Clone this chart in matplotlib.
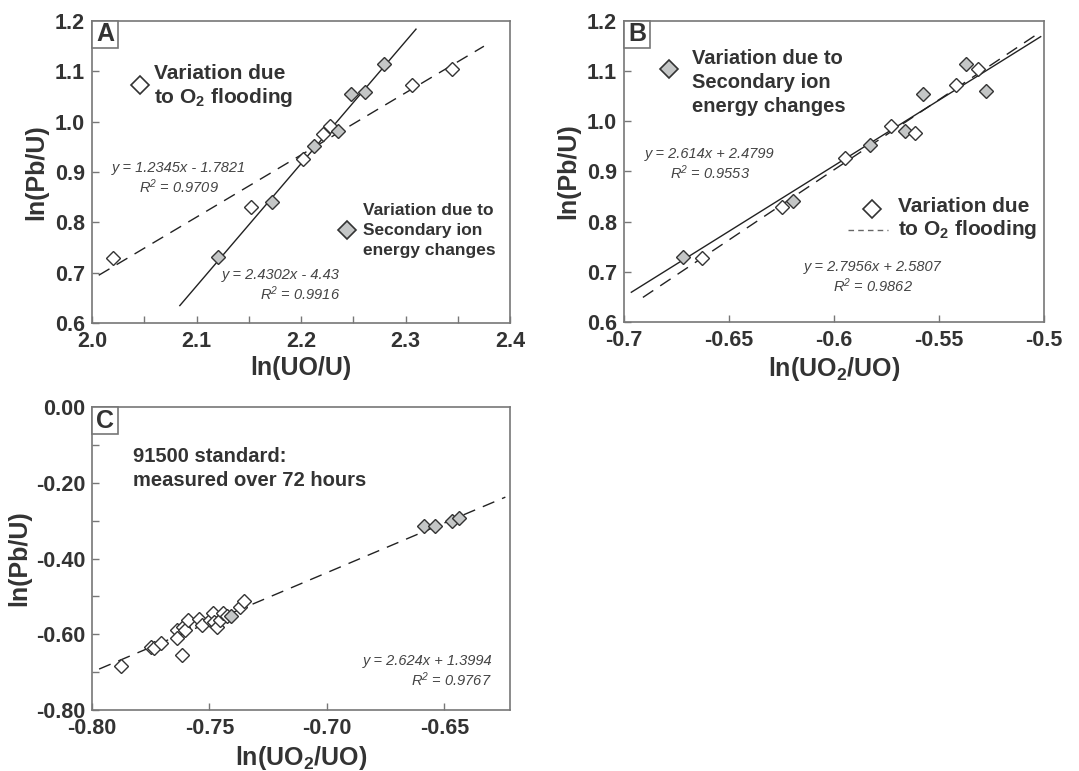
import matplotlib
matplotlib.use("Agg")
import matplotlib.pyplot as plt
from matplotlib.ticker import MultipleLocator, FormatStrFormatter
from matplotlib.patches import Rectangle
import numpy as np

plt.rcParams['font.family'] = ['Liberation Sans', 'DejaVu Sans']
plt.rcParams['mathtext.default'] = 'regular'

TXT = '#333333'
SPINE = '#777777'
GRAY = '#c4c6c6'

# ---------------- Panel A data ----------------
a_o2_x = [2.020, 2.152, 2.202, 2.221, 2.228, 2.306, 2.344]
a_o2_y = [0.729, 0.830, 0.925, 0.976, 0.991, 1.072, 1.105]
a_ion_x = [2.121, 2.172, 2.212, 2.235, 2.248, 2.261, 2.279]
a_ion_y = [0.731, 0.840, 0.951, 0.981, 1.055, 1.058, 1.114]
a_ion_fit = (2.4302, -4.43)
a_ion_fit_range = (2.084, 2.310)
a_o2_fit = (1.2345, -1.7821)
a_o2_fit_range = (2.0064, 2.375)

# ---------------- Panel B data ----------------
b_ion_x = [-0.672, -0.6195, -0.583, -0.566, -0.5576, -0.5373, -0.5278]
b_ion_y = [0.729, 0.842, 0.952, 0.981, 1.054, 1.115, 1.061]
b_o2_x = [-0.6627, -0.6248, -0.5946, -0.5727, -0.5616, -0.5417, -0.5314]
b_o2_y = [0.727, 0.829, 0.927, 0.991, 0.976, 1.072, 1.104]
b_ion_fit = (2.614, 2.4799)
b_ion_fit_range = (-0.6965, -0.5016)
b_o2_fit = (2.7956, 2.5807)
b_o2_fit_range = (-0.691, -0.5040)

# ---------------- Panel C data ----------------
c_open_x = [-0.7876, -0.7749, -0.7737, -0.7706, -0.7640, -0.7637, -0.7619,
            -0.7612, -0.7605, -0.7591, -0.7543, -0.7531, -0.7499, -0.7484,
            -0.7482, -0.7470, -0.7453, -0.7442, -0.7425, -0.7368, -0.7354]
c_open_y = [-0.684, -0.633, -0.635, -0.624, -0.589, -0.611, -0.656,
            -0.580, -0.590, -0.562, -0.560, -0.575, -0.562, -0.545,
            -0.568, -0.582, -0.562, -0.543, -0.551, -0.527, -0.511]
c_gray_x = [-0.7410, -0.6587, -0.6540, -0.6466, -0.6438]
c_gray_y = [-0.553, -0.315, -0.313, -0.300, -0.292]
c_fit = (2.624, 1.3994)
c_fit_range = (-0.797, -0.624)

fig = plt.figure(figsize=(10.79, 7.71), dpi=100)

def style_axes(ax):
    for s in ax.spines.values():
        s.set_color(SPINE)
        s.set_linewidth(1.2)
    ax.tick_params(which='both', direction='in', color=SPINE, width=1.0,
                   labelsize=15.5, labelcolor=TXT)
    ax.tick_params(axis='x', which='both', pad=6)
    ax.tick_params(axis='y', which='both', pad=5)
    ax.tick_params(which='both', length=5)
    for lab in ax.get_xticklabels() + ax.get_yticklabels():
        lab.set_fontweight('bold')

def panel_label(ax, letter):
    bb = ax.get_position()
    w = 26 / (bb.width * 1079)
    h = 27 / (bb.height * 771)
    ax.add_patch(Rectangle((0, 1 - h), w, h, transform=ax.transAxes,
                           fc='white', ec=SPINE, lw=1.2, zorder=4, clip_on=False))
    ax.text(w / 2, 1 - h / 2, letter, transform=ax.transAxes, ha='center', va='center',
            fontsize=18, fontweight='bold', color=TXT, zorder=5)

def fitline(ax, fit, rng, ls):
    xs = np.array(rng)
    ax.plot(xs, fit[0] * xs + fit[1], color='#222222', lw=1.0, ls=ls, zorder=2)

dash = (0, (9, 6))
MS = 7.5
EQ = dict(fontsize=10.5, style='italic', color='#444444', va='center', linespacing=1.17)

# ---------------- A ----------------
axA = fig.add_axes([0.0853, 0.5811, 0.3874, 0.3917])
fitline(axA, a_ion_fit, a_ion_fit_range, '-')
fitline(axA, a_o2_fit, a_o2_fit_range, dash)
axA.plot(a_o2_x, a_o2_y, 'D', ms=MS, mfc='white', mec='#333333', mew=1.0, zorder=3)
axA.plot(a_ion_x, a_ion_y, 'D', ms=MS, mfc=GRAY, mec='#333333', mew=1.0, zorder=3)
axA.set_xlim(2.0, 2.4)
axA.set_ylim(0.6, 1.2)
axA.xaxis.set_major_locator(MultipleLocator(0.1))
axA.xaxis.set_minor_locator(MultipleLocator(0.05))
axA.yaxis.set_major_locator(MultipleLocator(0.1))
axA.xaxis.set_major_formatter(FormatStrFormatter('%.1f'))
axA.yaxis.set_major_formatter(FormatStrFormatter('%.1f'))
style_axes(axA)
axA.set_xlabel('ln(UO/U)', fontsize=18, fontweight='bold', color=TXT, labelpad=3)
axA.set_ylabel('ln(Pb/U)', fontsize=18, fontweight='bold', color=TXT, labelpad=5)
panel_label(axA, 'A')
axA.plot([2.0459], [1.0728], 'D', ms=9, mfc='white', mec='#333333', mew=1.2)
axA.text(2.0593, 1.069, 'Variation due\nto O$_2$ flooding', fontsize=15, fontweight='bold',
         color=TXT, ha='left', va='center', linespacing=1.17)
axA.text(2.0828, 0.887, 'y = 1.2345x - 1.7821\nR$^2$ = 0.9709', ha='center', **EQ)
axA.plot([2.244], [0.785], 'D', ms=9, mfc=GRAY, mec='#333333', mew=1.2)
axA.text(2.2593, 0.783, 'Variation due to\nSecondary ion\nenergy changes', fontsize=12.5,
         fontweight='bold', color=TXT, ha='left', va='center', linespacing=1.42)
axA.text(2.1809, 0.6745, 'y = 2.4302x - 4.43\nR$^2$ = 0.9916', ha='center',
         multialignment='right', **EQ)

# ---------------- B ----------------
axB = fig.add_axes([0.5783, 0.5824, 0.3893, 0.3904])
fitline(axB, b_ion_fit, b_ion_fit_range, '-')
fitline(axB, b_o2_fit, b_o2_fit_range, dash)
axB.plot(b_ion_x, b_ion_y, 'D', ms=MS, mfc=GRAY, mec='#333333', mew=1.0, zorder=3)
axB.plot(b_o2_x, b_o2_y, 'D', ms=MS, mfc='white', mec='#333333', mew=1.0, zorder=3)
axB.set_xlim(-0.7, -0.5)
axB.set_ylim(0.6, 1.2)
axB.xaxis.set_major_locator(MultipleLocator(0.05))
axB.yaxis.set_major_locator(MultipleLocator(0.1))
axB.xaxis.set_major_formatter(plt.FuncFormatter(lambda v, p: ('%g' % round(v, 2))))
axB.yaxis.set_major_formatter(FormatStrFormatter('%.1f'))
style_axes(axB)
axB.set_xlabel('ln(UO$_2$/UO)', fontsize=18, fontweight='bold', color=TXT, labelpad=3)
axB.set_ylabel('ln(Pb/U)', fontsize=18, fontweight='bold', color=TXT, labelpad=5)
panel_label(axB, 'B')
axB.plot([-0.6786], [1.104], 'D', ms=9, mfc=GRAY, mec='#333333', mew=1.2)
axB.text(-0.6676, 1.078, 'Variation due to\nSecondary ion\nenergy changes', fontsize=14.5,
         fontweight='bold', color=TXT, ha='left', va='center', linespacing=1.34)
axB.text(-0.659, 0.914, 'y = 2.614x + 2.4799\nR$^2$ = 0.9553', ha='center', **EQ)
axB.plot([-0.5819], [0.8252], 'D', ms=9, mfc='white', mec='#333333', mew=1.2)
axB.plot([-0.5933, -0.5743], [0.7834, 0.7834], color='#666666', lw=1.0, ls=(0, (4, 3)))
axB.text(-0.5695, 0.8053, 'Variation due\nto O$_2$ flooding', fontsize=15, fontweight='bold',
         color=TXT, ha='left', va='center', linespacing=1.17)
axB.text(-0.5814, 0.6887, 'y = 2.7956x + 2.5807\nR$^2$ = 0.9862', ha='center', **EQ)

# ---------------- C ----------------
axC = fig.add_axes([0.0853, 0.0791, 0.3874, 0.3930])
fitline(axC, c_fit, c_fit_range, dash)
axC.plot(c_open_x, c_open_y, 'D', ms=MS, mfc='white', mec='#333333', mew=1.0, zorder=3)
axC.plot(c_gray_x, c_gray_y, 'D', ms=MS, mfc=GRAY, mec='#333333', mew=1.0, zorder=3)
axC.set_xlim(-0.80, -0.622)
axC.set_ylim(-0.80, 0.0)
axC.xaxis.set_major_locator(MultipleLocator(0.05))
axC.yaxis.set_major_locator(MultipleLocator(0.2))
axC.yaxis.set_minor_locator(MultipleLocator(0.1))
axC.xaxis.set_major_formatter(FormatStrFormatter('%.2f'))
axC.yaxis.set_major_formatter(FormatStrFormatter('%.2f'))
style_axes(axC)
axC.set_xlabel('ln(UO$_2$/UO)', fontsize=18, fontweight='bold', color=TXT, labelpad=3)
axC.set_ylabel('ln(Pb/U)', fontsize=18, fontweight='bold', color=TXT, labelpad=3)
panel_label(axC, 'C')
axC.text(-0.7825, -0.1624, '91500 standard:\nmeasured over 72 hours', fontsize=14.5,
         fontweight='bold', color=TXT, ha='left', va='center', linespacing=1.29)
axC.text(-0.6573, -0.698, 'y = 2.624x + 1.3994\nR$^2$ = 0.9767', ha='center',
         multialignment='right', **EQ)

fig.savefig('out.png', dpi=100)
